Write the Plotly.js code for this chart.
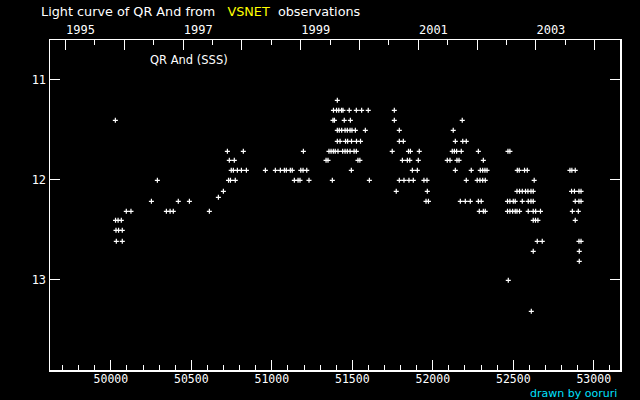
<!DOCTYPE html>
<html><head><meta charset="utf-8">
<script src="https://cdn.plot.ly/plotly-3.0.1.min.js"></script>
<style>html,body{margin:0;padding:0;background:#000;}#plot{width:640px;height:400px;}</style>
</head><body><div id="plot"></div>
<script>
// Magnitude levels (rows of estimates) and the JD-2400000 of each estimate at that level
const magLevels = [11.21, 11.31, 11.41, 11.51, 11.62, 11.72, 11.81, 11.91, 12.01, 12.12, 12.18, 12.22, 12.32, 12.41, 12.51, 12.62, 12.72, 12.82, 13.01, 13.32];
const jd_1121 = [51407];
const jd_1131 = [51383, 51402, 51416, 51433, 51442, 51481, 51525, 51558, 51599, 51761];
const jd_1141 = [50028, 51380, 51389, 51450, 51488, 51761, 52183];
const jd_1151 = [51407, 51419, 51434, 51455, 51469, 51486, 51498, 51519, 51581, 51792, 52127];
const jd_1162 = [51407, 51424, 51458, 51471, 51495, 51526, 51551, 51792, 51817, 52140, 52186, 52208];
const jd_1172 = [50724, 50823, 51196, 51355, 51368, 51382, 51394, 51411, 51440, 51455, 51469, 51486, 51511, 51525, 51748, 51849, 51861, 51916, 52121, 52134, 52148, 52177, 52283, 52467, 52479];
const jd_1181 = [50736, 50767, 51337, 51349, 51535, 51547, 51811, 51842, 51857, 51910, 52090, 52107, 52150, 52163, 52314];
const jd_1191 = [50748, 50761, 50786, 50811, 50842, 50960, 51022, 51053, 51078, 51090, 51115, 51127, 51180, 51194, 51217, 51494, 51873, 51904, 52140, 52239, 52295, 52310, 52324, 52337, 52525, 52537, 52570, 52587, 52852, 52864, 52885];
const jd_1201 = [50289, 50731, 50743, 50773, 51140, 51163, 51175, 51231, 51376, 51606, 51792, 51821, 51852, 51879, 51945, 51964, 52208, 52276, 52293, 52310, 52326, 52630];
const jd_1212 = [50699, 51773, 51966, 52523, 52539, 52556, 52576, 52591, 52610, 52624, 52862, 52880, 52908, 52921];
const jd_1218 = [50668];
const jd_1222 = [50252, 50419, 50488, 51958, 51973, 52171, 52202, 52233, 52283, 52301, 52464, 52479, 52500, 52512, 52556, 52593, 52610, 52624, 52885, 52908, 52921];
const jd_1232 = [50096, 50125, 50345, 50368, 50388, 50612, 52289, 52314, 52326, 52464, 52479, 52496, 52512, 52523, 52539, 52593, 52624, 52639, 52669, 52867, 52904];
const jd_1241 = [50029, 50045, 50065, 52624, 52638, 52653, 52885];
const jd_1251 = [50032, 50048, 50071];
const jd_1262 = [50034, 50071, 52649, 52680, 52908, 52921];
const jd_1272 = [52624, 52910];
const jd_1282 = [52910];
const jd_1301 = [52469];
const jd_1332 = [52612];
const jdRows = [jd_1121, jd_1131, jd_1141, jd_1151, jd_1162, jd_1172, jd_1181, jd_1191, jd_1201, jd_1212, jd_1218, jd_1222, jd_1232, jd_1241, jd_1251, jd_1262, jd_1272, jd_1282, jd_1301, jd_1332];

// Axis ticks
const jdTicks = [50000, 50500, 51000, 51500, 52000, 52500, 53000];
const yTicks = [11, 12, 13];
const years = [1995, 1996, 1997, 1998, 1999, 2000, 2001, 2002, 2003, 2004];
const yearLabels = ['1995', '', '1997', '', '1999', '', '2001', '', '2003', ''];

function jdOfJan1(y) { return Date.UTC(y, 0, 1) / 86400000 + 40587 + 0.5; }
const yearJD = years.map(jdOfJan1);
const midYearJD = years.map(y => (jdOfJan1(y) + jdOfJan1(y + 1)) / 2);

const xs = [], ys = [];
jdRows.forEach((row, i) => row.forEach(j => { xs.push(j); ys.push(magLevels[i]); }));

const xRange = [49622, 53163];
const mono = 'DejaVu Sans Mono, monospace';

const traces = [{
  x: xs, y: ys, type: 'scatter', mode: 'markers', hoverinfo: 'none',
  marker: {symbol: 'cross-thin', size: 3.6, color: '#fff', line: {color: '#fff', width: 1.2}}
}, {
  x: [xRange[0]], y: [12], xaxis: 'x2', yaxis: 'y', type: 'scatter', mode: 'markers',
  marker: {opacity: 0}, hoverinfo: 'none'
}];

const layout = {
  width: 640, height: 400,
  paper_bgcolor: '#000', plot_bgcolor: '#000',
  showlegend: false,
  margin: {l: 50, r: 20, t: 40, b: 30},
  font: {family: mono, color: '#fff', size: 12},
  xaxis: {
    range: xRange, showgrid: false, zeroline: false,
    showline: true, linecolor: '#fff', linewidth: 1.5, mirror: false,
    tickmode: 'array', tickvals: jdTicks, ticktext: jdTicks.map(String),
    ticks: 'inside', ticklen: 10, tickcolor: '#fff', tickwidth: 1,
    ticklabelstandoff: -2,
    minor: {dtick: 100, tick0: 0, ticks: 'inside', ticklen: 5, tickcolor: '#fff', tickwidth: 1, showgrid: false},
    tickfont: {family: mono, size: 11.5, color: '#fff'}
  },
  xaxis2: {
    range: xRange, overlaying: 'x', side: 'top', showgrid: false, zeroline: false,
    showline: true, linecolor: '#fff', linewidth: 1.5,
    tickmode: 'array', tickvals: yearJD, ticktext: yearLabels,
    ticks: 'inside', ticklen: 10, tickcolor: '#fff', tickwidth: 1,
    ticklabelshift: 15,
    minor: {tickmode: 'array', tickvals: midYearJD, ticks: 'inside', ticklen: 5, tickcolor: '#fff', tickwidth: 1, showgrid: false},
    tickfont: {family: mono, size: 12, color: '#fff'}
  },
  yaxis: {
    range: [13.907, 10.607], showgrid: false, zeroline: false,
    showline: true, linecolor: '#fff', linewidth: 1.5, mirror: 'ticks',
    tickmode: 'array', tickvals: yTicks, ticktext: yTicks.map(String),
    ticks: 'inside', ticklen: 10, tickcolor: '#fff', tickwidth: 1,
    tickfont: {family: mono, size: 12, color: '#fff'}
  },
  annotations: [{
    xref: 'paper', yref: 'paper', x: (39 - 50) / 570, y: 1 + (40 - 12) / 330,
    xanchor: 'left', yanchor: 'middle', showarrow: false,
    text: 'Light curve of QR And from\u00a0\u00a0 <span style="color:#ffff00">VSNET</span>\u00a0 observations',
    font: {family: 'DejaVu Sans, sans-serif', size: 12.8, color: '#fff'}
  }, {
    xref: 'paper', yref: 'paper', x: (148 - 50) / 570, y: 1 - (60 - 40) / 330,
    xanchor: 'left', yanchor: 'middle', showarrow: false,
    text: 'QR And (SSS)',
    font: {family: 'DejaVu Sans, sans-serif', size: 11.5, color: '#fff'}
  }, {
    xref: 'paper', yref: 'paper', x: (619 - 50) / 570, y: -(393.5 - 370) / 330,
    xanchor: 'right', yanchor: 'middle', showarrow: false,
    text: 'drawn by ooruri',
    font: {family: 'DejaVu Sans, sans-serif', size: 11, color: '#00e0ff'}
  }]
};

Plotly.newPlot('plot', traces, layout, {staticPlot: true, displayModeBar: false});
</script>
</body></html>
